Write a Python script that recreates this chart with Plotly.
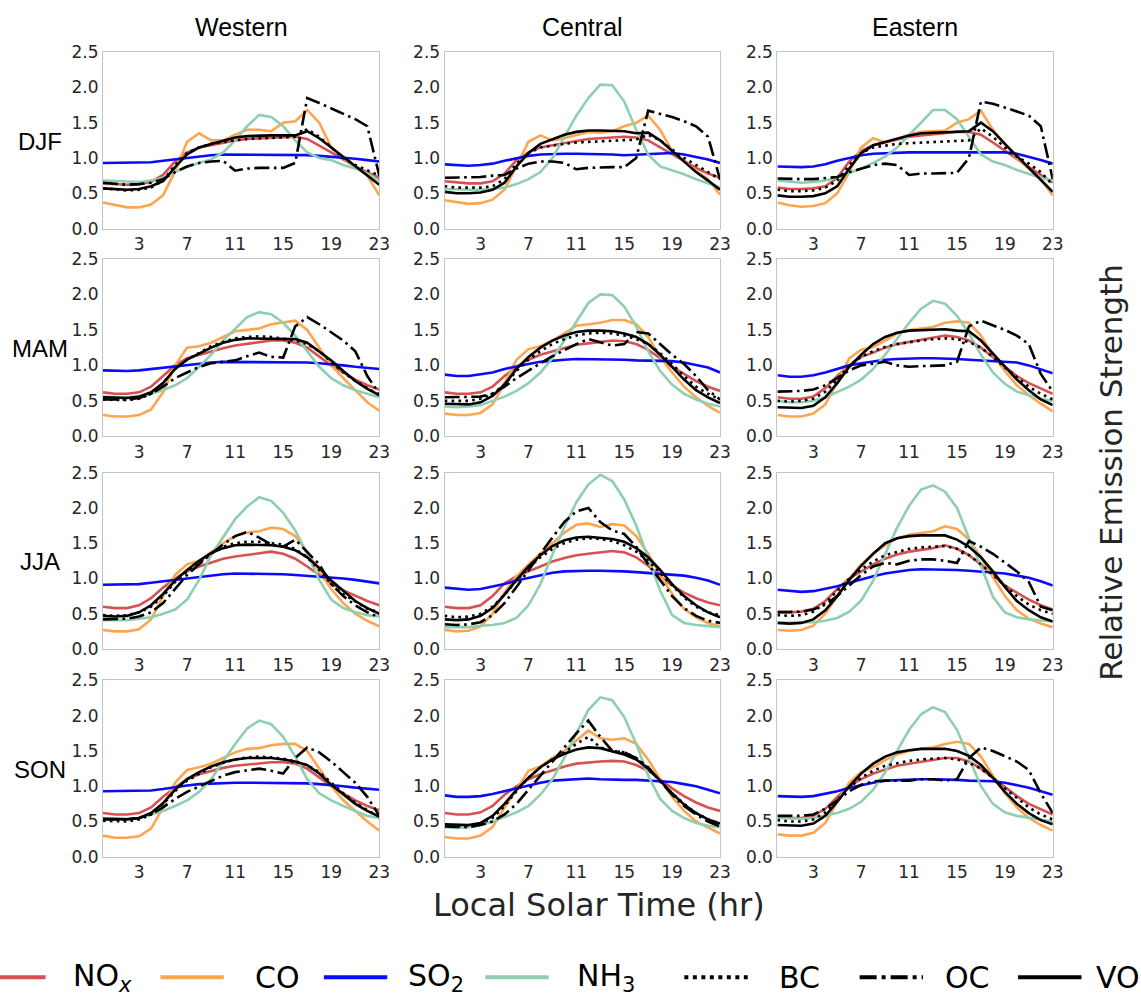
import plotly.graph_objects as go
from plotly.subplots import make_subplots

# ---------------------------------------------------------------------------
# Diurnal profiles of relative emission strength (hour 0..23, local solar time)
# ---------------------------------------------------------------------------
HOURS = list(range(24))
SEASONS = ["DJF", "MAM", "JJA", "SON"]
REGIONS = ["Western", "Central", "Eastern"]
SPECIES = ["NOx", "CO", "SO2", "NH3", "BC", "OC", "VOC"]
SPECIES_LABELS = ["NO<sub><i>x</i></sub>", "CO", "SO<sub>2</sub>", "NH<sub>3</sub>", "BC", "OC", "VOC"]
X_TICKS = [3, 7, 11, 15, 19, 23]
Y_TICKS = [0.0, 0.5, 1.0, 1.5, 2.0, 2.5]

DJF_WESTERN = dict(
    NOx=[0.64, 0.63, 0.62, 0.63, 0.66, 0.76, 0.95, 1.08, 1.15, 1.18, 1.22, 1.25, 1.27, 1.28, 1.29, 1.30, 1.30, 1.27, 1.18, 1.08, 0.98, 0.88, 0.80, 0.72],
    CO=[0.37, 0.33, 0.30, 0.30, 0.34, 0.47, 0.81, 1.23, 1.35, 1.25, 1.25, 1.33, 1.40, 1.40, 1.38, 1.50, 1.52, 1.68, 1.50, 1.15, 1.00, 0.88, 0.75, 0.47],
    SO2=[0.93, 0.93, 0.93, 0.93, 0.94, 0.96, 0.98, 1.01, 1.03, 1.04, 1.05, 1.05, 1.05, 1.05, 1.05, 1.05, 1.04, 1.04, 1.03, 1.02, 1.01, 0.99, 0.97, 0.95],
    NH3=[0.68, 0.67, 0.66, 0.66, 0.68, 0.72, 0.80, 0.88, 0.93, 0.98, 1.08, 1.25, 1.45, 1.61, 1.58, 1.45, 1.25, 1.08, 1.00, 0.97, 0.90, 0.85, 0.78, 0.68],
    BC=[0.57, 0.55, 0.54, 0.55, 0.58, 0.68, 0.90, 1.07, 1.15, 1.20, 1.23, 1.25, 1.27, 1.28, 1.29, 1.30, 1.30, 1.41, 1.30, 1.15, 1.00, 0.90, 0.82, 0.75],
    OC=[0.65, 0.63, 0.62, 0.63, 0.65, 0.70, 0.80, 0.88, 0.93, 0.95, 0.96, 0.82, 0.85, 0.86, 0.86, 0.86, 0.93, 1.85, 1.78, 1.70, 1.62, 1.55, 1.45, 0.75],
    VOC=[0.57, 0.56, 0.55, 0.56, 0.60, 0.67, 0.87, 1.05, 1.15, 1.20, 1.25, 1.29, 1.31, 1.32, 1.32, 1.32, 1.32, 1.38, 1.28, 1.15, 1.02, 0.88, 0.75, 0.62],
)
DJF_CENTRAL = dict(
    NOx=[0.67, 0.65, 0.64, 0.64, 0.67, 0.78, 0.97, 1.08, 1.15, 1.18, 1.21, 1.24, 1.27, 1.28, 1.29, 1.30, 1.29, 1.25, 1.15, 1.05, 0.95, 0.86, 0.78, 0.72],
    CO=[0.40, 0.37, 0.35, 0.36, 0.41, 0.55, 0.90, 1.23, 1.32, 1.25, 1.28, 1.33, 1.37, 1.36, 1.38, 1.45, 1.50, 1.60, 1.40, 1.10, 0.95, 0.82, 0.70, 0.48],
    SO2=[0.91, 0.90, 0.89, 0.90, 0.92, 0.96, 1.00, 1.03, 1.05, 1.06, 1.06, 1.06, 1.06, 1.06, 1.05, 1.04, 1.05, 1.06, 1.07, 1.07, 1.05, 1.02, 0.98, 0.93],
    NH3=[0.56, 0.55, 0.55, 0.55, 0.56, 0.58, 0.63, 0.70, 0.80, 1.00, 1.30, 1.60, 1.85, 2.04, 2.03, 1.80, 1.40, 1.05, 0.88, 0.83, 0.77, 0.70, 0.64, 0.58],
    BC=[0.60, 0.58, 0.58, 0.58, 0.60, 0.70, 0.92, 1.07, 1.15, 1.18, 1.20, 1.22, 1.23, 1.24, 1.25, 1.26, 1.26, 1.33, 1.25, 1.12, 1.00, 0.90, 0.80, 0.70],
    OC=[0.72, 0.72, 0.72, 0.73, 0.75, 0.76, 0.85, 0.92, 0.95, 0.95, 0.93, 0.84, 0.86, 0.87, 0.87, 0.87, 1.00, 1.67, 1.63, 1.58, 1.52, 1.45, 1.30, 0.70],
    VOC=[0.52, 0.50, 0.50, 0.51, 0.55, 0.65, 0.88, 1.07, 1.20, 1.27, 1.33, 1.37, 1.39, 1.39, 1.39, 1.38, 1.35, 1.36, 1.25, 1.10, 0.95, 0.80, 0.68, 0.55],
)
DJF_EASTERN = dict(
    NOx=[0.58, 0.56, 0.56, 0.57, 0.60, 0.72, 0.95, 1.10, 1.18, 1.22, 1.27, 1.30, 1.32, 1.34, 1.35, 1.37, 1.37, 1.33, 1.22, 1.10, 0.98, 0.87, 0.76, 0.65],
    CO=[0.37, 0.33, 0.31, 0.32, 0.36, 0.50, 0.80, 1.15, 1.28, 1.22, 1.27, 1.33, 1.37, 1.38, 1.39, 1.50, 1.55, 1.67, 1.40, 1.20, 1.00, 0.85, 0.70, 0.47],
    SO2=[0.88, 0.87, 0.87, 0.88, 0.91, 0.96, 1.00, 1.04, 1.06, 1.07, 1.08, 1.08, 1.08, 1.08, 1.07, 1.07, 1.07, 1.07, 1.08, 1.08, 1.06, 1.02, 0.97, 0.92],
    NH3=[0.68, 0.66, 0.65, 0.66, 0.68, 0.72, 0.78, 0.85, 0.93, 1.02, 1.15, 1.32, 1.50, 1.68, 1.68, 1.55, 1.30, 1.05, 0.95, 0.90, 0.83, 0.77, 0.72, 0.68],
    BC=[0.55, 0.53, 0.53, 0.54, 0.58, 0.68, 0.90, 1.07, 1.15, 1.18, 1.20, 1.21, 1.22, 1.23, 1.24, 1.24, 1.25, 1.42, 1.30, 1.15, 1.02, 0.92, 0.80, 0.62],
    OC=[0.71, 0.70, 0.70, 0.70, 0.71, 0.73, 0.80, 0.85, 0.90, 0.92, 0.90, 0.76, 0.78, 0.78, 0.78, 0.79, 1.00, 1.80, 1.77, 1.72, 1.66, 1.60, 1.45, 0.70],
    VOC=[0.47, 0.45, 0.45, 0.46, 0.50, 0.60, 0.85, 1.07, 1.18, 1.23, 1.28, 1.32, 1.35, 1.36, 1.37, 1.38, 1.38, 1.50, 1.38, 1.20, 1.03, 0.86, 0.70, 0.52],
)
MAM_WESTERN = dict(
    NOx=[0.62, 0.60, 0.60, 0.62, 0.70, 0.85, 1.00, 1.10, 1.15, 1.20, 1.24, 1.28, 1.30, 1.32, 1.35, 1.35, 1.32, 1.25, 1.13, 1.00, 0.90, 0.80, 0.72, 0.66],
    CO=[0.30, 0.28, 0.28, 0.30, 0.38, 0.62, 1.00, 1.25, 1.27, 1.32, 1.40, 1.48, 1.50, 1.52, 1.58, 1.60, 1.63, 1.50, 1.25, 1.00, 0.82, 0.65, 0.48, 0.36],
    SO2=[0.93, 0.92, 0.92, 0.93, 0.95, 0.97, 0.99, 1.01, 1.03, 1.04, 1.05, 1.05, 1.05, 1.05, 1.05, 1.05, 1.05, 1.04, 1.03, 1.02, 1.00, 0.98, 0.96, 0.95],
    NH3=[0.56, 0.55, 0.55, 0.56, 0.60, 0.65, 0.72, 0.82, 0.98, 1.15, 1.35, 1.52, 1.68, 1.75, 1.72, 1.60, 1.42, 1.20, 0.98, 0.82, 0.72, 0.65, 0.60, 0.55],
    BC=[0.52, 0.51, 0.51, 0.53, 0.60, 0.75, 0.95, 1.08, 1.18, 1.27, 1.33, 1.38, 1.40, 1.41, 1.40, 1.38, 1.35, 1.30, 1.20, 1.05, 0.90, 0.78, 0.68, 0.58],
    OC=[0.52, 0.52, 0.52, 0.54, 0.60, 0.70, 0.82, 0.90, 0.98, 1.03, 1.05, 1.07, 1.13, 1.18, 1.12, 1.11, 1.55, 1.68, 1.58, 1.46, 1.35, 1.20, 0.85, 0.60],
    VOC=[0.55, 0.54, 0.54, 0.56, 0.62, 0.75, 0.95, 1.08, 1.17, 1.25, 1.32, 1.36, 1.38, 1.38, 1.38, 1.37, 1.37, 1.32, 1.20, 1.07, 0.92, 0.78, 0.67, 0.58],
)
MAM_CENTRAL = dict(
    NOx=[0.62, 0.60, 0.60, 0.62, 0.70, 0.85, 0.98, 1.08, 1.15, 1.20, 1.25, 1.29, 1.31, 1.33, 1.35, 1.34, 1.30, 1.22, 1.10, 0.98, 0.88, 0.78, 0.70, 0.64],
    CO=[0.32, 0.30, 0.30, 0.33, 0.45, 0.75, 1.08, 1.23, 1.27, 1.35, 1.45, 1.56, 1.58, 1.60, 1.64, 1.64, 1.58, 1.40, 1.12, 0.90, 0.70, 0.55, 0.43, 0.33],
    SO2=[0.87, 0.85, 0.85, 0.87, 0.90, 0.95, 0.99, 1.02, 1.05, 1.07, 1.08, 1.09, 1.09, 1.09, 1.09, 1.08, 1.07, 1.07, 1.07, 1.06, 1.04, 1.01, 0.97, 0.90],
    NH3=[0.42, 0.41, 0.42, 0.44, 0.50, 0.56, 0.64, 0.75, 0.90, 1.10, 1.35, 1.62, 1.88, 2.00, 1.99, 1.83, 1.55, 1.20, 0.92, 0.73, 0.60, 0.52, 0.46, 0.42],
    BC=[0.50, 0.50, 0.50, 0.53, 0.60, 0.73, 0.92, 1.08, 1.20, 1.30, 1.37, 1.42, 1.45, 1.46, 1.45, 1.42, 1.37, 1.30, 1.17, 1.02, 0.85, 0.70, 0.60, 0.52],
    OC=[0.55, 0.55, 0.55, 0.56, 0.60, 0.70, 0.82, 0.93, 1.03, 1.13, 1.22, 1.30, 1.37, 1.33, 1.28, 1.30, 1.47, 1.45, 1.30, 1.15, 1.02, 0.85, 0.65, 0.52],
    VOC=[0.46, 0.45, 0.45, 0.48, 0.57, 0.73, 0.95, 1.12, 1.25, 1.35, 1.42, 1.47, 1.49, 1.49, 1.48, 1.45, 1.40, 1.30, 1.15, 0.98, 0.80, 0.65, 0.55, 0.47],
)
MAM_EASTERN = dict(
    NOx=[0.55, 0.53, 0.53, 0.56, 0.68, 0.85, 1.00, 1.12, 1.18, 1.25, 1.30, 1.33, 1.36, 1.38, 1.42, 1.40, 1.35, 1.25, 1.12, 0.98, 0.85, 0.75, 0.67, 0.60],
    CO=[0.30, 0.28, 0.28, 0.32, 0.45, 0.78, 1.10, 1.22, 1.26, 1.35, 1.45, 1.50, 1.52, 1.54, 1.60, 1.62, 1.60, 1.42, 1.15, 0.92, 0.72, 0.58, 0.46, 0.35],
    SO2=[0.86, 0.84, 0.84, 0.86, 0.90, 0.95, 1.00, 1.03, 1.06, 1.08, 1.09, 1.10, 1.10, 1.10, 1.10, 1.09, 1.08, 1.07, 1.07, 1.06, 1.04, 1.00, 0.95, 0.89],
    NH3=[0.50, 0.48, 0.48, 0.50, 0.55, 0.62, 0.70, 0.80, 0.95, 1.15, 1.38, 1.60, 1.80, 1.91, 1.87, 1.70, 1.45, 1.15, 0.90, 0.74, 0.63, 0.58, 0.53, 0.50],
    BC=[0.50, 0.49, 0.50, 0.53, 0.63, 0.80, 1.00, 1.12, 1.20, 1.26, 1.30, 1.33, 1.35, 1.37, 1.38, 1.37, 1.33, 1.25, 1.12, 0.97, 0.83, 0.70, 0.60, 0.52],
    OC=[0.63, 0.63, 0.64, 0.66, 0.72, 0.82, 0.93, 1.00, 1.03, 1.05, 1.00, 0.98, 0.99, 1.00, 1.00, 1.05, 1.55, 1.63, 1.57, 1.50, 1.42, 1.30, 0.88, 0.63],
    VOC=[0.41, 0.40, 0.40, 0.43, 0.55, 0.75, 0.98, 1.15, 1.30, 1.40, 1.46, 1.49, 1.50, 1.51, 1.51, 1.49, 1.48, 1.35, 1.17, 0.98, 0.80, 0.65, 0.52, 0.44],
)
JJA_WESTERN = dict(
    NOx=[0.60, 0.58, 0.58, 0.62, 0.72, 0.87, 1.00, 1.10, 1.17, 1.23, 1.28, 1.31, 1.33, 1.35, 1.38, 1.35, 1.28, 1.17, 1.05, 0.93, 0.83, 0.75, 0.68, 0.62],
    CO=[0.27, 0.25, 0.25, 0.28, 0.42, 0.75, 1.05, 1.20, 1.25, 1.38, 1.50, 1.60, 1.65, 1.67, 1.72, 1.70, 1.60, 1.38, 1.10, 0.85, 0.65, 0.50, 0.40, 0.32],
    SO2=[0.91, 0.91, 0.91, 0.92, 0.94, 0.96, 0.99, 1.01, 1.03, 1.05, 1.06, 1.07, 1.07, 1.07, 1.07, 1.06, 1.05, 1.04, 1.03, 1.02, 1.00, 0.98, 0.95, 0.93],
    NH3=[0.41, 0.41, 0.41, 0.43, 0.45, 0.50, 0.56, 0.70, 0.98, 1.33, 1.58, 1.84, 2.02, 2.15, 2.10, 1.93, 1.68, 1.35, 0.98, 0.70, 0.58, 0.52, 0.48, 0.46],
    BC=[0.48, 0.47, 0.48, 0.52, 0.60, 0.75, 0.95, 1.10, 1.22, 1.35, 1.45, 1.50, 1.52, 1.52, 1.50, 1.48, 1.42, 1.30, 1.12, 0.92, 0.78, 0.67, 0.57, 0.52],
    OC=[0.42, 0.42, 0.43, 0.46, 0.52, 0.65, 0.85, 1.05, 1.20, 1.35, 1.48, 1.60, 1.66, 1.58, 1.48, 1.45, 1.55, 1.38, 1.20, 0.92, 0.75, 0.62, 0.52, 0.45],
    VOC=[0.47, 0.46, 0.47, 0.52, 0.62, 0.78, 0.97, 1.12, 1.25, 1.36, 1.43, 1.47, 1.48, 1.48, 1.47, 1.45, 1.40, 1.30, 1.15, 0.97, 0.82, 0.68, 0.58, 0.50],
)
JJA_CENTRAL = dict(
    NOx=[0.60, 0.58, 0.58, 0.62, 0.75, 0.93, 1.03, 1.10, 1.18, 1.24, 1.29, 1.33, 1.35, 1.37, 1.39, 1.37, 1.30, 1.18, 1.03, 0.90, 0.80, 0.72, 0.66, 0.62],
    CO=[0.27, 0.25, 0.26, 0.32, 0.50, 0.80, 1.03, 1.20, 1.35, 1.50, 1.65, 1.76, 1.78, 1.73, 1.77, 1.75, 1.60, 1.35, 1.05, 0.78, 0.57, 0.45, 0.37, 0.32],
    SO2=[0.87, 0.85, 0.84, 0.85, 0.88, 0.92, 0.97, 1.01, 1.05, 1.08, 1.10, 1.11, 1.11, 1.11, 1.11, 1.10, 1.09, 1.08, 1.07, 1.06, 1.04, 1.01, 0.97, 0.91],
    NH3=[0.31, 0.31, 0.31, 0.33, 0.34, 0.37, 0.44, 0.62, 0.92, 1.34, 1.73, 2.08, 2.33, 2.47, 2.38, 2.12, 1.75, 1.29, 0.83, 0.48, 0.37, 0.34, 0.32, 0.31],
    BC=[0.47, 0.45, 0.46, 0.50, 0.60, 0.77, 0.97, 1.15, 1.30, 1.42, 1.50, 1.55, 1.57, 1.56, 1.53, 1.47, 1.38, 1.25, 1.08, 0.90, 0.73, 0.60, 0.52, 0.48],
    OC=[0.35, 0.34, 0.35, 0.38, 0.48, 0.65, 0.88, 1.12, 1.35, 1.58, 1.80, 1.95, 2.00, 1.80, 1.68, 1.63, 1.45, 1.20, 0.98, 0.75, 0.58, 0.47, 0.40, 0.37],
    VOC=[0.42, 0.41, 0.42, 0.47, 0.58, 0.77, 0.98, 1.17, 1.33, 1.46, 1.54, 1.58, 1.59, 1.58, 1.56, 1.52, 1.43, 1.30, 1.12, 0.92, 0.75, 0.62, 0.52, 0.45],
)
JJA_EASTERN = dict(
    NOx=[0.53, 0.52, 0.53, 0.57, 0.68, 0.85, 1.00, 1.10, 1.20, 1.28, 1.34, 1.38, 1.40, 1.43, 1.47, 1.42, 1.33, 1.20, 1.05, 0.90, 0.80, 0.70, 0.62, 0.56],
    CO=[0.27, 0.26, 0.27, 0.33, 0.50, 0.75, 1.00, 1.20, 1.35, 1.47, 1.57, 1.62, 1.64, 1.67, 1.74, 1.70, 1.55, 1.30, 1.02, 0.75, 0.55, 0.43, 0.36, 0.31],
    SO2=[0.84, 0.82, 0.81, 0.82, 0.85, 0.89, 0.94, 0.99, 1.03, 1.07, 1.10, 1.12, 1.13, 1.13, 1.13, 1.12, 1.11, 1.10, 1.09, 1.07, 1.04, 1.01, 0.96, 0.90],
    NH3=[0.37, 0.37, 0.37, 0.38, 0.40, 0.44, 0.53, 0.69, 0.97, 1.34, 1.72, 2.03, 2.26, 2.32, 2.23, 2.00, 1.57, 1.18, 0.74, 0.52, 0.45, 0.42, 0.40, 0.39],
    BC=[0.48, 0.47, 0.48, 0.53, 0.65, 0.82, 1.00, 1.13, 1.24, 1.33, 1.38, 1.42, 1.44, 1.45, 1.46, 1.42, 1.33, 1.20, 1.05, 0.90, 0.75, 0.63, 0.55, 0.50],
    OC=[0.52, 0.52, 0.53, 0.56, 0.63, 0.75, 0.90, 1.05, 1.17, 1.22, 1.20, 1.25, 1.27, 1.27, 1.25, 1.22, 1.53, 1.45, 1.35, 1.22, 1.10, 0.95, 0.60, 0.55],
    VOC=[0.37, 0.36, 0.37, 0.42, 0.55, 0.75, 0.98, 1.18, 1.35, 1.50, 1.57, 1.60, 1.61, 1.61, 1.61, 1.55, 1.45, 1.30, 1.10, 0.88, 0.68, 0.55, 0.45, 0.39],
)
SON_WESTERN = dict(
    NOx=[0.62, 0.60, 0.60, 0.62, 0.70, 0.85, 0.98, 1.10, 1.17, 1.22, 1.26, 1.29, 1.31, 1.32, 1.34, 1.34, 1.32, 1.25, 1.13, 1.00, 0.90, 0.80, 0.72, 0.66],
    CO=[0.30, 0.27, 0.27, 0.29, 0.40, 0.70, 1.05, 1.23, 1.27, 1.32, 1.40, 1.48, 1.53, 1.54, 1.58, 1.60, 1.60, 1.50, 1.25, 1.00, 0.80, 0.65, 0.50, 0.37],
    SO2=[0.93, 0.93, 0.93, 0.93, 0.94, 0.96, 0.99, 1.01, 1.03, 1.04, 1.05, 1.05, 1.05, 1.05, 1.05, 1.05, 1.05, 1.04, 1.03, 1.02, 1.00, 0.98, 0.96, 0.95],
    NH3=[0.55, 0.54, 0.54, 0.55, 0.60, 0.65, 0.72, 0.80, 0.92, 1.10, 1.35, 1.60, 1.82, 1.93, 1.88, 1.70, 1.42, 1.10, 0.90, 0.80, 0.72, 0.65, 0.58, 0.55],
    BC=[0.51, 0.50, 0.50, 0.53, 0.60, 0.75, 0.93, 1.08, 1.18, 1.27, 1.33, 1.38, 1.41, 1.42, 1.41, 1.39, 1.35, 1.30, 1.20, 1.05, 0.90, 0.77, 0.66, 0.57],
    OC=[0.53, 0.53, 0.53, 0.55, 0.60, 0.70, 0.82, 0.92, 1.00, 1.08, 1.15, 1.20, 1.23, 1.25, 1.22, 1.18, 1.40, 1.55, 1.48, 1.35, 1.20, 1.05, 0.85, 0.58],
    VOC=[0.54, 0.53, 0.53, 0.55, 0.62, 0.76, 0.95, 1.10, 1.20, 1.28, 1.34, 1.38, 1.40, 1.40, 1.40, 1.38, 1.35, 1.30, 1.18, 1.02, 0.88, 0.75, 0.65, 0.57],
)
SON_CENTRAL = dict(
    NOx=[0.62, 0.60, 0.60, 0.63, 0.72, 0.88, 1.00, 1.10, 1.17, 1.23, 1.28, 1.32, 1.34, 1.35, 1.36, 1.35, 1.30, 1.22, 1.10, 0.97, 0.86, 0.77, 0.70, 0.65],
    CO=[0.28, 0.26, 0.26, 0.30, 0.42, 0.70, 0.95, 1.22, 1.28, 1.40, 1.50, 1.65, 1.79, 1.68, 1.66, 1.68, 1.60, 1.38, 1.10, 0.85, 0.65, 0.50, 0.42, 0.33],
    SO2=[0.87, 0.85, 0.85, 0.86, 0.89, 0.93, 0.98, 1.02, 1.05, 1.08, 1.09, 1.10, 1.11, 1.10, 1.09, 1.09, 1.09, 1.08, 1.08, 1.06, 1.03, 1.00, 0.95, 0.90],
    NH3=[0.42, 0.41, 0.42, 0.45, 0.50, 0.56, 0.63, 0.72, 0.88, 1.10, 1.40, 1.75, 2.08, 2.26, 2.22, 1.98, 1.60, 1.15, 0.82, 0.65, 0.55, 0.48, 0.44, 0.42],
    BC=[0.45, 0.44, 0.44, 0.47, 0.55, 0.72, 0.93, 1.12, 1.27, 1.38, 1.48, 1.60, 1.70, 1.55, 1.50, 1.48, 1.40, 1.25, 1.07, 0.90, 0.75, 0.62, 0.53, 0.47],
    OC=[0.43, 0.42, 0.42, 0.45, 0.50, 0.60, 0.75, 0.95, 1.15, 1.35, 1.55, 1.75, 1.93, 1.70, 1.50, 1.48, 1.40, 1.27, 1.07, 0.88, 0.72, 0.60, 0.50, 0.43],
    VOC=[0.46, 0.45, 0.45, 0.48, 0.58, 0.75, 0.95, 1.12, 1.27, 1.38, 1.46, 1.52, 1.55, 1.54, 1.50, 1.45, 1.38, 1.25, 1.08, 0.90, 0.74, 0.62, 0.53, 0.47],
)
SON_EASTERN = dict(
    NOx=[0.57, 0.55, 0.55, 0.58, 0.68, 0.85, 1.00, 1.10, 1.18, 1.24, 1.29, 1.32, 1.35, 1.37, 1.40, 1.40, 1.35, 1.25, 1.12, 0.98, 0.86, 0.75, 0.67, 0.60],
    CO=[0.32, 0.30, 0.30, 0.34, 0.48, 0.78, 1.05, 1.20, 1.27, 1.37, 1.45, 1.50, 1.53, 1.55, 1.60, 1.63, 1.60, 1.42, 1.15, 0.90, 0.70, 0.55, 0.45, 0.37],
    SO2=[0.86, 0.85, 0.85, 0.86, 0.89, 0.93, 0.98, 1.02, 1.05, 1.08, 1.09, 1.10, 1.10, 1.10, 1.10, 1.09, 1.08, 1.08, 1.07, 1.05, 1.02, 0.98, 0.93, 0.88],
    NH3=[0.55, 0.54, 0.54, 0.55, 0.58, 0.62, 0.68, 0.78, 0.95, 1.20, 1.50, 1.80, 2.02, 2.12, 2.05, 1.80, 1.40, 1.00, 0.75, 0.63, 0.58, 0.55, 0.52, 0.50],
    BC=[0.52, 0.50, 0.50, 0.53, 0.63, 0.80, 0.98, 1.12, 1.22, 1.29, 1.33, 1.36, 1.38, 1.39, 1.40, 1.38, 1.33, 1.25, 1.12, 0.97, 0.83, 0.70, 0.60, 0.53],
    OC=[0.58, 0.58, 0.58, 0.60, 0.68, 0.80, 0.93, 1.02, 1.07, 1.08, 1.08, 1.08, 1.10, 1.10, 1.08, 1.10, 1.40, 1.55, 1.50, 1.43, 1.35, 1.23, 0.90, 0.62],
    VOC=[0.45, 0.44, 0.44, 0.47, 0.58, 0.78, 1.00, 1.18, 1.32, 1.42, 1.48, 1.51, 1.53, 1.53, 1.53, 1.50, 1.43, 1.30, 1.12, 0.92, 0.75, 0.62, 0.52, 0.46],
)

PANELS = [
    [DJF_WESTERN, DJF_CENTRAL, DJF_EASTERN],
    [MAM_WESTERN, MAM_CENTRAL, MAM_EASTERN],
    [JJA_WESTERN, JJA_CENTRAL, JJA_EASTERN],
    [SON_WESTERN, SON_CENTRAL, SON_EASTERN],
]

# ---------------------------------------------------------------------------
# Styling
# ---------------------------------------------------------------------------
W, H = 1141, 1005
LW = 2.6
LINE_STYLE = {
    "NOx": dict(color="#d65252", width=LW, dash="solid"),
    "CO": dict(color="#ffa54f", width=LW, dash="solid"),
    "SO2": dict(color="#0a0aff", width=LW, dash="solid"),
    "NH3": dict(color="#8ecfb1", width=LW, dash="solid"),
    "BC": dict(color="#000000", width=LW, dash="2.6px,4.3px"),
    "OC": dict(color="#000000", width=LW, dash="15px,4.5px,2.6px,4.5px"),
    "VOC": dict(color="#000000", width=LW, dash="solid"),
}
LEGEND_DASH = {"BC": "4px,4.5px", "OC": "17px,5px,4px,5px"}

# Panel boxes in pixels: (left, right) per column, (top, bottom) per row
COL_PX = [(104, 383), (449, 727), (785, 1063)]
ROW_PX = [(43, 223), (254, 435), (472, 652), (684, 864)]


def px_x(x):
    return x / W


def px_y(y):
    return 1 - y / H


fig = make_subplots(rows=4, cols=3)

for r, season in enumerate(SEASONS):
    for c, region in enumerate(REGIONS):
        panel = PANELS[r][c]
        for sp in SPECIES:
            fig.add_trace(
                go.Scatter(
                    x=HOURS, y=panel[sp], mode="lines", name=sp,
                    line=LINE_STYLE[sp], showlegend=False, hoverinfo="skip",
                ),
                row=r + 1, col=c + 1,
            )

axis_common = dict(
    showline=True, mirror=True, linecolor="#c4c4c4", linewidth=1.2,
    showgrid=False, zeroline=False, ticks="",
    tickfont=dict(family="DejaVu Sans", size=17, color="#262626"),
)

for r in range(4):
    for c in range(3):
        idx = r * 3 + c + 1
        suffix = "" if idx == 1 else str(idx)
        l, rr = COL_PX[c]
        t, b = ROW_PX[r]
        fig.layout["xaxis" + suffix].update(
            domain=[px_x(l), px_x(rr)], range=[0, 23],
            tickvals=X_TICKS, ticktext=[str(v) for v in X_TICKS], **axis_common,
        )
        fig.layout["yaxis" + suffix].update(
            domain=[px_y(b), px_y(t)], range=[0, 2.5],
            tickvals=Y_TICKS, ticktext=[f"{v:.1f}" for v in Y_TICKS], **axis_common,
        )

annotations = []
# Column (region) titles
for c, region in enumerate(REGIONS):
    l, rr = COL_PX[c]
    annotations.append(dict(
        text=region, x=px_x((l + rr) / 2), y=px_y(17), xref="paper", yref="paper",
        showarrow=False, xanchor="center", yanchor="middle",
        font=dict(family="Liberation Sans", size=25, color="black"),
    ))
# Row (season) labels
for r, season in enumerate(SEASONS):
    t, b = ROW_PX[r]
    annotations.append(dict(
        text=season, x=px_x(40), y=px_y((t + b) / 2 + 1), xref="paper", yref="paper",
        showarrow=False, xanchor="center", yanchor="middle",
        font=dict(family="Liberation Sans", size=24, color="black"),
    ))
# Shared axis titles
annotations.append(dict(
    text="Local Solar Time (hr)", x=px_x(605), y=px_y(913), xref="paper", yref="paper",
    showarrow=False, xanchor="center", yanchor="middle",
    font=dict(family="DejaVu Sans", size=32, color="#262626"),
))
annotations.append(dict(
    text="Relative Emission Strength", x=px_x(1121), y=px_y(472), xref="paper", yref="paper",
    showarrow=False, xanchor="center", yanchor="middle", textangle=-90,
    font=dict(family="DejaVu Sans", size=31, color="#262626"),
))

# Legend row along the bottom edge
LEG_Y = 987
LEG_LINE_X = [-18, 162, 327, 490, 691, 868, 1028]
LEG_LINE_LEN = 64
LEG_TEXT_X = [72, 255, 410, 581, 785, 952, 1105]
shapes = []
for i, sp in enumerate(SPECIES):
    st = LINE_STYLE[sp]
    x0 = LEG_LINE_X[i]
    shapes.append(dict(
        type="line", xref="paper", yref="paper",
        x0=px_x(x0), x1=px_x(x0 + LEG_LINE_LEN), y0=px_y(LEG_Y), y1=px_y(LEG_Y),
        line=dict(color=st["color"], width=4, dash=LEGEND_DASH.get(sp, st["dash"])),
    ))
    annotations.append(dict(
        text=SPECIES_LABELS[i], x=px_x(LEG_TEXT_X[i]), y=px_y(LEG_Y), xref="paper", yref="paper",
        showarrow=False, xanchor="left", yanchor="middle",
        font=dict(family="DejaVu Sans", size=30, color="black"),
    ))

fig.update_layout(
    width=W, height=H, margin=dict(l=0, r=0, t=0, b=0),
    paper_bgcolor="white", plot_bgcolor="white",
    annotations=annotations, shapes=shapes, showlegend=False,
)

fig.write_html("out.html")
